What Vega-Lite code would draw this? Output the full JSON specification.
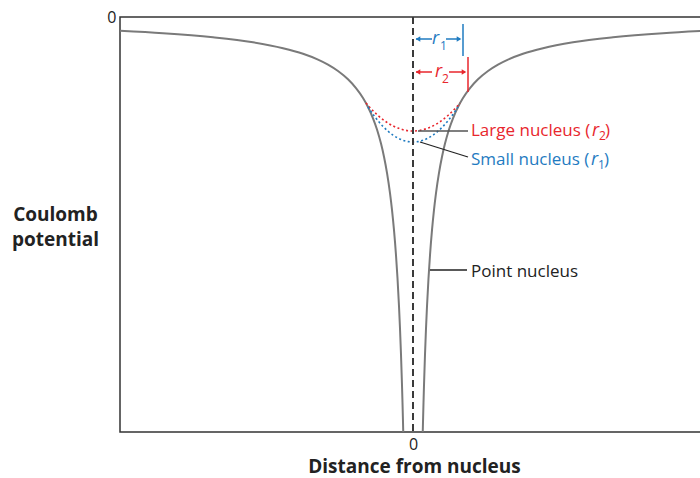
{
  "$schema": "https://vega.github.io/schema/vega-lite/v6.json",
  "width": 582,
  "height": 415,
  "autosize": {"type": "none"},
  "padding": {"left": 120, "top": 17, "right": 0, "bottom": 46},
  "background": "white",
  "config": {
    "view": {"stroke": "#333333", "strokeWidth": 1.5},
    "font": "Open Sans",
    "axis": {"grid": false, "ticks": false, "domain": false, "labelColor": "#222222", "titleColor": "#222222", "labelFont": "Open Sans", "titleFont": "Open Sans"}
  },
  "datasets": {
    "pointNucleus": [
      {"branch": "left", "d": -293, "v": -13.8},
      {"branch": "left", "d": -250, "v": -16.2},
      {"branch": "left", "d": -200, "v": -20.3},
      {"branch": "left", "d": -160, "v": -25.3},
      {"branch": "left", "d": -130, "v": -31.2},
      {"branch": "left", "d": -110, "v": -36.8},
      {"branch": "left", "d": -95, "v": -42.6},
      {"branch": "left", "d": -85, "v": -47.6},
      {"branch": "left", "d": -75, "v": -54.0},
      {"branch": "left", "d": -65, "v": -62.3},
      {"branch": "left", "d": -57, "v": -71.1},
      {"branch": "left", "d": -50, "v": -81.0},
      {"branch": "left", "d": -45, "v": -90.0},
      {"branch": "left", "d": -40, "v": -101.3},
      {"branch": "left", "d": -36, "v": -112.5},
      {"branch": "left", "d": -32, "v": -126.6},
      {"branch": "left", "d": -29, "v": -139.7},
      {"branch": "left", "d": -26, "v": -155.8},
      {"branch": "left", "d": -23, "v": -176.1},
      {"branch": "left", "d": -21, "v": -192.9},
      {"branch": "left", "d": -19, "v": -213.2},
      {"branch": "left", "d": -17, "v": -238.2},
      {"branch": "left", "d": -15.5, "v": -261.3},
      {"branch": "left", "d": -14, "v": -289.3},
      {"branch": "left", "d": -13, "v": -311.5},
      {"branch": "left", "d": -12, "v": -337.5},
      {"branch": "left", "d": -11, "v": -368.2},
      {"branch": "left", "d": -10.5, "v": -385.7},
      {"branch": "left", "d": -10, "v": -405.0},
      {"branch": "left", "d": -9.76, "v": -415.0},
      {"branch": "right", "d": 9.76, "v": -415.0},
      {"branch": "right", "d": 10, "v": -405.0},
      {"branch": "right", "d": 10.5, "v": -385.7},
      {"branch": "right", "d": 11, "v": -368.2},
      {"branch": "right", "d": 12, "v": -337.5},
      {"branch": "right", "d": 13, "v": -311.5},
      {"branch": "right", "d": 14, "v": -289.3},
      {"branch": "right", "d": 15.5, "v": -261.3},
      {"branch": "right", "d": 17, "v": -238.2},
      {"branch": "right", "d": 19, "v": -213.2},
      {"branch": "right", "d": 21, "v": -192.9},
      {"branch": "right", "d": 23, "v": -176.1},
      {"branch": "right", "d": 26, "v": -155.8},
      {"branch": "right", "d": 29, "v": -139.7},
      {"branch": "right", "d": 32, "v": -126.6},
      {"branch": "right", "d": 36, "v": -112.5},
      {"branch": "right", "d": 40, "v": -101.3},
      {"branch": "right", "d": 45, "v": -90.0},
      {"branch": "right", "d": 50, "v": -81.0},
      {"branch": "right", "d": 57, "v": -71.1},
      {"branch": "right", "d": 65, "v": -62.3},
      {"branch": "right", "d": 75, "v": -54.0},
      {"branch": "right", "d": 85, "v": -47.6},
      {"branch": "right", "d": 95, "v": -42.6},
      {"branch": "right", "d": 110, "v": -36.8},
      {"branch": "right", "d": 130, "v": -31.2},
      {"branch": "right", "d": 160, "v": -25.3},
      {"branch": "right", "d": 200, "v": -20.3},
      {"branch": "right", "d": 250, "v": -16.2},
      {"branch": "right", "d": 289, "v": -14.0}
    ],
    "largeNucleus": [
      {"d": -47, "v": -86.0},
      {"d": -44, "v": -89.5},
      {"d": -40, "v": -93.7},
      {"d": -35, "v": -98.5},
      {"d": -30, "v": -102.6},
      {"d": -25, "v": -106.1},
      {"d": -20, "v": -108.9},
      {"d": -15, "v": -111.1},
      {"d": -10, "v": -112.7},
      {"d": -5, "v": -113.7},
      {"d": 0, "v": -114.0},
      {"d": 5, "v": -113.7},
      {"d": 10, "v": -112.7},
      {"d": 15, "v": -111.1},
      {"d": 20, "v": -108.9},
      {"d": 25, "v": -106.1},
      {"d": 30, "v": -102.6},
      {"d": 35, "v": -98.5},
      {"d": 40, "v": -93.7},
      {"d": 44, "v": -89.5},
      {"d": 47, "v": -86.0}
    ],
    "smallNucleus": [
      {"d": -45, "v": -90.0},
      {"d": -40, "v": -97.3},
      {"d": -35, "v": -103.8},
      {"d": -30, "v": -109.4},
      {"d": -25, "v": -114.2},
      {"d": -20, "v": -118.1},
      {"d": -15, "v": -121.1},
      {"d": -10, "v": -123.3},
      {"d": -5, "v": -124.6},
      {"d": 0, "v": -125.0},
      {"d": 5, "v": -124.6},
      {"d": 10, "v": -123.3},
      {"d": 15, "v": -121.1},
      {"d": 20, "v": -118.1},
      {"d": 25, "v": -114.2},
      {"d": 30, "v": -109.4},
      {"d": 35, "v": -103.8},
      {"d": 40, "v": -97.3},
      {"d": 45, "v": -90.0}
    ]
  },
  "layer": [
    {
      "data": {"name": "pointNucleus"},
      "mark": {"type": "line", "color": "#7a7a7a", "strokeWidth": 2, "interpolate": "monotone"},
      "encoding": {
        "x": {"field": "d", "type": "quantitative", "scale": {"domain": [-293, 289], "nice": false, "zero": false},
          "axis": {"values": [0], "labelFontSize": 16, "labelPadding": 4, "title": "Distance from nucleus", "titleFontSize": 19, "titleFontWeight": "bold", "titleX": 294, "titleY": 40, "titleBaseline": "alphabetic", "titleAlign": "center"}},
        "y": {"field": "v", "type": "quantitative", "scale": {"domain": [-415, 0], "nice": false, "zero": false},
          "axis": {"values": [0], "labelFontSize": 16, "labelPadding": 4, "title": ["Coulomb", "potential"], "titleFontSize": 19, "titleFontWeight": "bold", "titleAngle": 0, "titleX": -65, "titleY": 203, "titleAlign": "center", "titleBaseline": "alphabetic", "titleLineHeight": 25}},
        "detail": {"field": "branch"}
      }
    },
    {
      "data": {"name": "largeNucleus"},
      "mark": {"type": "line", "color": "#e8262d", "strokeWidth": 1.6, "strokeDash": [2, 2.5], "interpolate": "monotone"},
      "encoding": {"x": {"field": "d", "type": "quantitative"}, "y": {"field": "v", "type": "quantitative"}}
    },
    {
      "data": {"name": "smallNucleus"},
      "mark": {"type": "line", "color": "#1f7bc1", "strokeWidth": 1.6, "strokeDash": [2, 2.5], "interpolate": "monotone"},
      "encoding": {"x": {"field": "d", "type": "quantitative"}, "y": {"field": "v", "type": "quantitative"}}
    },
    {
      "data": {"values": [{"d": 0}]},
      "mark": {"type": "rule", "color": "#3a3a3a", "strokeWidth": 2, "strokeDash": [7, 4]},
      "encoding": {"x": {"field": "d", "type": "quantitative"}}
    },
    {
      "data": {"values": [
        {"x1": 5, "y1": -114, "x2": 55, "y2": -114, "line": "large"}
      ]},
      "mark": {"type": "rule", "color": "#555555", "strokeWidth": 1.5},
      "encoding": {"x": {"field": "x1", "type": "quantitative"}, "x2": {"field": "x2"}, "y": {"field": "y1", "type": "quantitative"}, "y2": {"field": "y2"}}
    },
    {
      "data": {"values": [
        {"x1": 7, "y1": -125, "x2": 55, "y2": -140, "line": "small"},
        {"x1": 17, "y1": -253, "x2": 54, "y2": -253, "line": "point"}
      ]},
      "mark": {"type": "rule", "color": "#222222", "strokeWidth": 1.3},
      "encoding": {"x": {"field": "x1", "type": "quantitative"}, "x2": {"field": "x2"}, "y": {"field": "y1", "type": "quantitative"}, "y2": {"field": "y2"}}
    },
    {
      "data": {"values": [
        {"x1": 3, "x2": 19, "y1": -22, "y2": -22},
        {"x1": 33, "x2": 47, "y1": -22, "y2": -22},
        {"x1": 50, "x2": 50, "y1": -7, "y2": -39}
      ]},
      "mark": {"type": "rule", "color": "#1f7bc1", "strokeWidth": 1.5},
      "encoding": {"x": {"field": "x1", "type": "quantitative"}, "x2": {"field": "x2"}, "y": {"field": "y1", "type": "quantitative"}, "y2": {"field": "y2"}}
    },
    {
      "data": {"values": [
        {"x1": 3, "x2": 19, "y1": -55, "y2": -55},
        {"x1": 36, "x2": 52, "y1": -55, "y2": -55},
        {"x1": 55, "x2": 55, "y1": -40, "y2": -75}
      ]},
      "mark": {"type": "rule", "color": "#e8262d", "strokeWidth": 1.5},
      "encoding": {"x": {"field": "x1", "type": "quantitative"}, "x2": {"field": "x2"}, "y": {"field": "y1", "type": "quantitative"}, "y2": {"field": "y2"}}
    },
    {
      "data": {"values": [{"d": 5, "v": -22}]},
      "mark": {"type": "point", "shape": "triangle-left", "filled": true, "size": 28, "color": "#1f7bc1", "opacity": 1},
      "encoding": {"x": {"field": "d", "type": "quantitative"}, "y": {"field": "v", "type": "quantitative"}}
    },
    {
      "data": {"values": [{"d": 46, "v": -22}]},
      "mark": {"type": "point", "shape": "triangle-right", "filled": true, "size": 28, "color": "#1f7bc1", "opacity": 1},
      "encoding": {"x": {"field": "d", "type": "quantitative"}, "y": {"field": "v", "type": "quantitative"}}
    },
    {
      "data": {"values": [{"d": 5, "v": -55}]},
      "mark": {"type": "point", "shape": "triangle-left", "filled": true, "size": 28, "color": "#e8262d", "opacity": 1},
      "encoding": {"x": {"field": "d", "type": "quantitative"}, "y": {"field": "v", "type": "quantitative"}}
    },
    {
      "data": {"values": [{"d": 51, "v": -55}]},
      "mark": {"type": "point", "shape": "triangle-right", "filled": true, "size": 28, "color": "#e8262d", "opacity": 1},
      "encoding": {"x": {"field": "d", "type": "quantitative"}, "y": {"field": "v", "type": "quantitative"}}
    },
    {
      "data": {"values": [
        {"d": 19, "v": -27, "t": "r"},
        {"d": 178, "v": -148, "t": "r"}
      ]},
      "mark": {"type": "text", "align": "left", "baseline": "alphabetic", "fontSize": 18, "fontStyle": "italic", "color": "#1f7bc1"},
      "encoding": {"x": {"field": "d", "type": "quantitative"}, "y": {"field": "v", "type": "quantitative"}, "text": {"field": "t"}}
    },
    {
      "data": {"values": [
        {"d": 27, "v": -33, "t": "1"},
        {"d": 185, "v": -152, "t": "1"}
      ]},
      "mark": {"type": "text", "align": "left", "baseline": "alphabetic", "fontSize": 12, "color": "#1f7bc1"},
      "encoding": {"x": {"field": "d", "type": "quantitative"}, "y": {"field": "v", "type": "quantitative"}, "text": {"field": "t"}}
    },
    {
      "data": {"values": [
        {"d": 58, "v": -148, "t": "Small nucleus ("},
        {"d": 191, "v": -148, "t": ")"}
      ]},
      "mark": {"type": "text", "align": "left", "baseline": "alphabetic", "fontSize": 17, "color": "#1f7bc1"},
      "encoding": {"x": {"field": "d", "type": "quantitative"}, "y": {"field": "v", "type": "quantitative"}, "text": {"field": "t"}}
    },
    {
      "data": {"values": [
        {"d": 22, "v": -60, "t": "r"},
        {"d": 179, "v": -119, "t": "r"}
      ]},
      "mark": {"type": "text", "align": "left", "baseline": "alphabetic", "fontSize": 18, "fontStyle": "italic", "color": "#e8262d"},
      "encoding": {"x": {"field": "d", "type": "quantitative"}, "y": {"field": "v", "type": "quantitative"}, "text": {"field": "t"}}
    },
    {
      "data": {"values": [
        {"d": 29, "v": -66, "t": "2"},
        {"d": 186, "v": -123, "t": "2"}
      ]},
      "mark": {"type": "text", "align": "left", "baseline": "alphabetic", "fontSize": 12, "color": "#e8262d"},
      "encoding": {"x": {"field": "d", "type": "quantitative"}, "y": {"field": "v", "type": "quantitative"}, "text": {"field": "t"}}
    },
    {
      "data": {"values": [
        {"d": 58, "v": -119, "t": "Large nucleus ("},
        {"d": 192, "v": -119, "t": ")"}
      ]},
      "mark": {"type": "text", "align": "left", "baseline": "alphabetic", "fontSize": 17, "color": "#e8262d"},
      "encoding": {"x": {"field": "d", "type": "quantitative"}, "y": {"field": "v", "type": "quantitative"}, "text": {"field": "t"}}
    },
    {
      "data": {"values": [
        {"d": 58, "v": -260, "t": "Point nucleus"}
      ]},
      "mark": {"type": "text", "align": "left", "baseline": "alphabetic", "fontSize": 17, "color": "#222222"},
      "encoding": {"x": {"field": "d", "type": "quantitative"}, "y": {"field": "v", "type": "quantitative"}, "text": {"field": "t"}}
    }
  ]
}
